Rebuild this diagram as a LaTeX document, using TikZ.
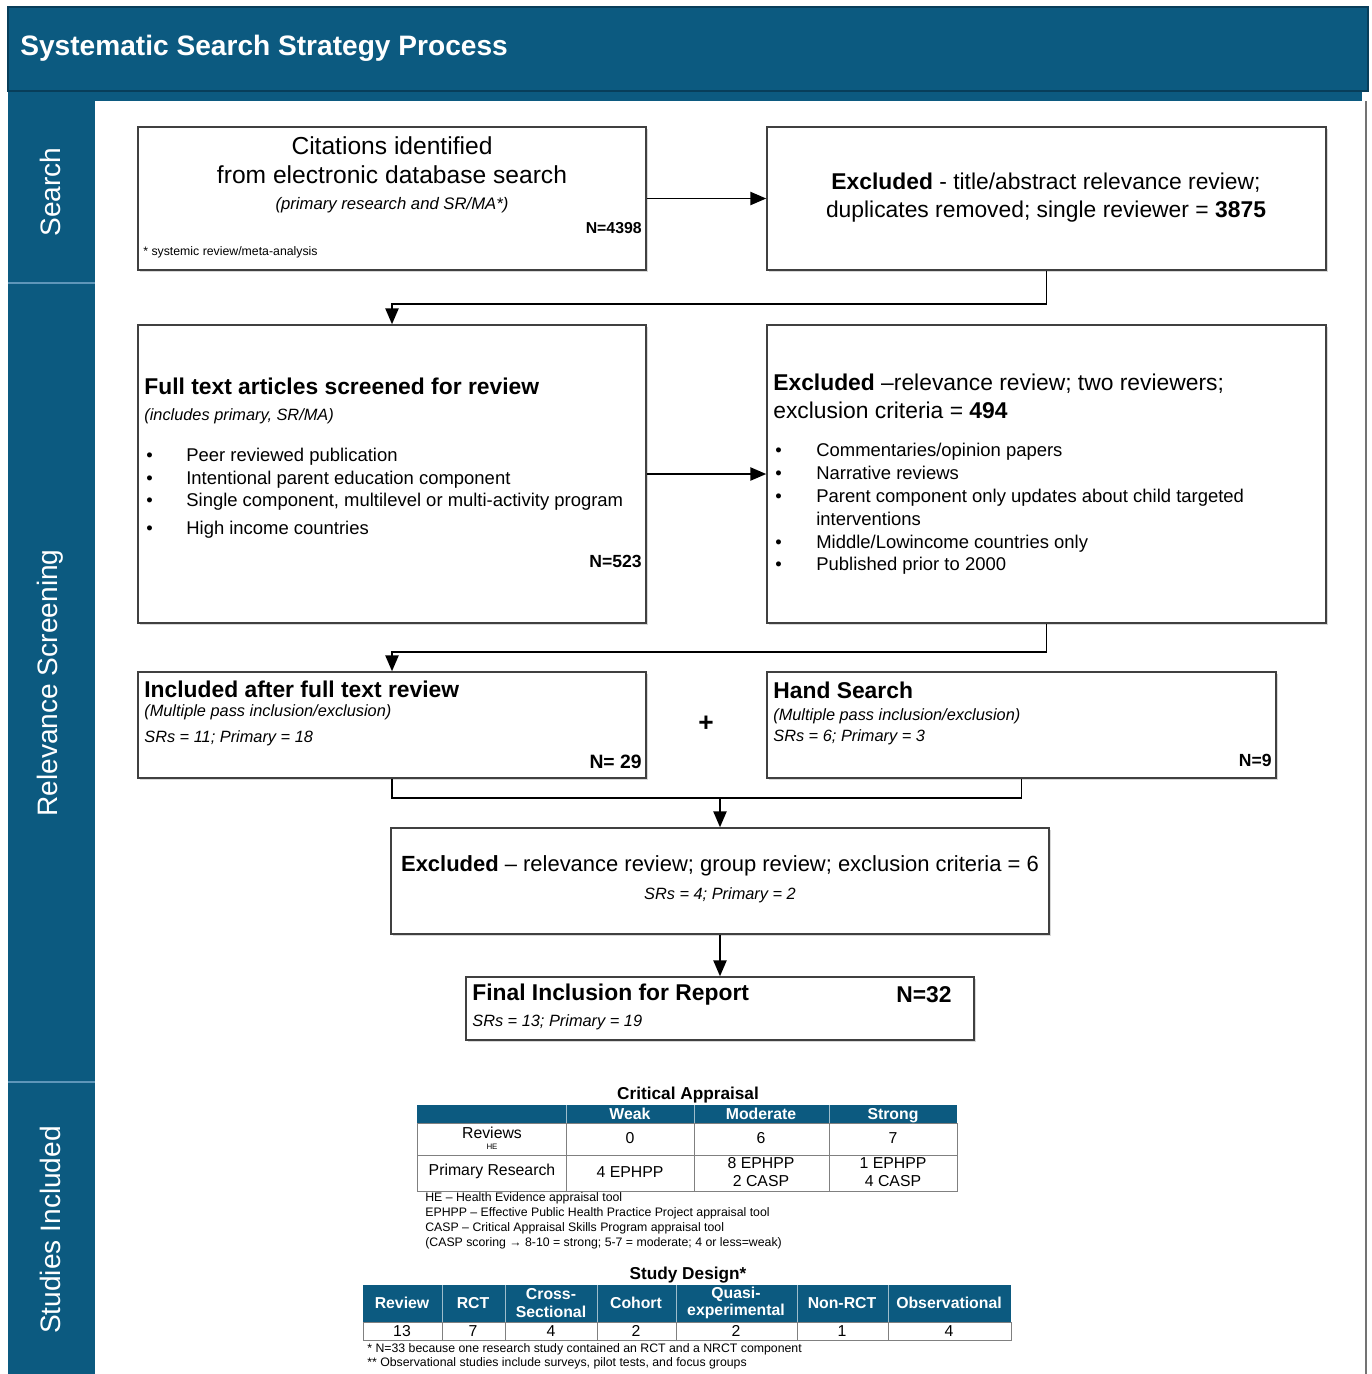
\documentclass[tikz,border=0pt]{standalone}
\usepackage{fontspec}
\setmainfont{Liberation Sans}
\usetikzlibrary{arrows.meta,fit,shadows}
\definecolor{lanecol}{RGB}{12,90,128}
\definecolor{laneedge}{RGB}{8,62,90}
\definecolor{laneline}{RGB}{95,150,185}
\newcommand\fsz[2]{\fontsize{#1}{#2}\selectfont}

\begin{document}
\begin{tikzpicture}[x=0.02cm, y=-0.02cm]
\tikzstyle{box}=[draw=black!75, line width=0.9pt, fill=white, inner sep=0pt,
  drop shadow={shadow xshift=1.2pt, shadow yshift=-1.2pt, opacity=0.3}]
\tikzstyle{arr}=[line width=0.9pt, -{Triangle[length=9pt,width=7.5pt]}]
\tikzstyle{conn}=[line width=0.9pt]
\tikzstyle{lw}=[anchor=west, inner sep=0pt]
\tikzstyle{le}=[anchor=east, inner sep=0pt]
\tikzstyle{lane}=[white, rotate=90, font=\fsz{16}{18}]
\tikzstyle{head}=[inner sep=0pt, font=\bfseries\fsz{13}{15}]
\tikzstyle{note}=[inner sep=0pt, font=\itshape\fsz{9.3}{11}]
\tikzstyle{item}=[anchor=base west, inner sep=0pt, font=\fsz{10.5}{12}]
\tikzstyle{num}=[le, font=\bfseries\fsz{10}{12}]
\tikzstyle{tline}=[draw=black!50, line width=0.5pt]
\tikzstyle{thead}=[inner sep=0pt, white, align=center, font=\bfseries\fsz{9}{10}]
\tikzstyle{tcell}=[inner sep=0pt, align=center, font=\fsz{9}{10}]
\tikzstyle{tnote}=[lw, font=\fsz{7}{8}]

\fill[white] (0,0) rectangle (1372,1374);
\useasboundingbox (0,0) rectangle (1372,1374);

% frame and lanes
\fill[lanecol] (8,91) rectangle (1362,101);
\fill[lanecol, draw=laneedge, line width=0.8pt] (8,7) rectangle (1368,91);
\fill[lanecol] (8,101) rectangle (95,1374);
\draw[laneline, line width=1.2pt] (8,283) -- (95,283);
\draw[laneline, line width=1.2pt] (8,1082) -- (95,1082);
\draw[black!55, line width=0.6pt] (1366,101) -- (1366,1374);

\node[lw, white, font=\bfseries\fsz{16}{18}] (title) at (20,48) {Systematic Search Strategy Process};
\node[lane] (laneS) at (50,192) {Search};
\node[lane] (laneR) at (50,683) {Relevance Screening};
\node[lane] (laneI) at (50,1230) {Studies Included};

% boxes
\node[box, fit={(138,127) (646,270)}] (cite) {};
\node[box, fit={(767,127) (1326,270)}] (excl1) {};
\node[box, fit={(138,325) (646,623)}] (full) {};
\node[box, fit={(767,325) (1326,623)}] (excl2) {};
\node[box, fit={(138,672) (646,778)}] (incl) {};
\node[box, fit={(767,672) (1276,778)}] (hand) {};
\node[box, fit={(391,828) (1049,934)}] (excl3) {};
\node[box, fit={(466,977) (974,1040)}] (final) {};

% search
\node[inner sep=0pt, align=center, font=\fsz{14}{16.5}] (citeT) at (392,160)
  {Citations identified\\from electronic database search};
\node[note, font=\itshape\fsz{9.5}{11}] (citeS) at (392,205) {(primary research and SR/MA*)};
\node[num, font=\bfseries\fsz{9}{11}] (citeN) at (642,228) {N=4398};
\node[lw, font=\fsz{7}{8}] (citeF) at (143,252) {* systemic review/meta-analysis};
\node[inner sep=0pt, align=center, font=\fsz{13}{16}] (excl1T) at (1046,198)
  {\textbf{Excluded} - title/abstract relevance review;\\duplicates removed; single reviewer = \textbf{3875}};

% full text screening
\node[lw, head] (fullT) at (144,386) {Full text articles screened for review};
\node[lw, note] (fullS) at (144,416) {(includes primary, SR/MA)};
\foreach \y/\t [count=\i] in {461/{Peer reviewed publication}, 484/{Intentional parent education component},
  506/{Single component, multilevel or multi-activity program}, 534/{High income countries}} {
  \node[item] (fullB\i) at (146,\y) {•};
  \node[item] (fullI\i) at (186,\y) {\t};
}
\node[num] (fullN) at (642,561) {N=523};

\node[lw, align=left, font=\fsz{13}{16}] (excl2T) at (773,396)
  {\textbf{Excluded} –relevance review; two reviewers;\\exclusion criteria = \textbf{494}};
\foreach \y/\t [count=\i] in {456/{Commentaries/opinion papers}, 479/{Narrative reviews},
  502/{Parent component only updates about child targeted}, 548/{Middle/Lowincome countries only},
  570/{Published prior to 2000}} {
  \node[item] (excl2B\i) at (775,\y) {•};
  \node[item] (excl2I\i) at (816,\y) {\t};
}
\node[item] (excl2I6) at (816,525) {interventions};

% included and hand search
\node[lw, head] (inclT) at (144,689) {Included after full text review};
\node[lw, note] (inclS) at (144,712) {(Multiple pass inclusion/exclusion)};
\node[lw, note] (inclC) at (144,738) {SRs = 11; Primary = 18};
\node[num, font=\bfseries\fsz{11}{13}] (inclN) at (642,762) {N= 29};

\node[inner sep=0pt, font=\bfseries\fsz{15}{16}] (plus) at (706,724) {+};

\node[lw, head] (handT) at (773,690) {Hand Search};
\node[lw, note] (handS) at (773,716) {(Multiple pass inclusion/exclusion)};
\node[lw, note] (handC) at (773,737) {SRs = 6; Primary = 3};
\node[num] (handN) at (1272,760) {N=9};

\node[inner sep=0pt, font=\fsz{12.5}{15}] (excl3T) at (720,866)
  {\textbf{Excluded} – relevance review; group review; exclusion criteria = 6};
\node[note] (excl3C) at (720,895) {SRs = 4; Primary = 2};

\node[lw, head] (finalT) at (472,995) {Final Inclusion for Report};
\node[le, head] (finalN) at (952,995) {N=32};
\node[lw, note] (finalC) at (472,1022) {SRs = 13; Primary = 19};

% connectors
\draw[arr] (cite.east) -- (excl1.west);
\draw[arr] (excl1.south) -- ++(0,33) -| (full.north);
\draw[arr] (full.east) -- (excl2.west);
\draw[arr] (excl2.south) -- ++(0,28) -| (incl.north);
\coordinate (merge) at (720,798);
\draw[conn] (incl.south) |- (merge) -| (hand.south);
\draw[arr] (merge) -- (excl3.north);
\draw[arr] (excl3.south) -- (final.north);

% critical appraisal table
\node[inner sep=0pt, font=\bfseries\fsz{9.8}{11}] (caT) at (688,1095) {Critical Appraisal};
\fill[lanecol] (417,1105) rectangle (957,1123);
\draw[tline] (417,1123) rectangle (957,1191);
\draw[tline] (417,1155) -- (957,1155);
\foreach \x in {566,694,829} {
  \draw[white!60!lanecol, line width=0.5pt] (\x,1105) -- (\x,1123);
  \draw[tline] (\x,1123) -- (\x,1191);
}
\foreach \x/\t [count=\i] in {630/Weak, 761/Moderate, 893/Strong}
  \node[thead] (caH\i) at (\x,1116) {\strut\t};
\node[tcell] (caR1) at (492,1133) {Reviews};
\node[tcell, font=\fsz{4.5}{5}] (caHE) at (492,1147) {HE};
\foreach \x/\t [count=\i] in {630/0, 761/6, 893/7}
  \node[tcell] (caA\i) at (\x,1138) {\t};
\node[tcell] (caR2) at (492,1171) {Primary Research};
\foreach \x/\t [count=\i] in {630/4 EPHPP, 761/8 EPHPP\\2 CASP, 893/1 EPHPP\\4 CASP}
  \node[tcell] (caB\i) at (\x,1172) {\t};
\foreach \y/\t [count=\i] in {1198/{HE – Health Evidence appraisal tool},
  1213/{EPHPP – Effective Public Health Practice Project appraisal tool},
  1228/{CASP – Critical Appraisal Skills Program appraisal tool},
  1243/{(CASP scoring → 8-10 = strong; 5-7 = moderate; 4 or less=weak)}}
  \node[tnote] (caN\i) at (425,\y) {\t};

% study design table
\node[inner sep=0pt, font=\bfseries\fsz{9.8}{11}] (sdT) at (688,1275) {Study Design*};
\fill[lanecol] (363,1285) rectangle (1011,1322);
\draw[tline] (363,1322) rectangle (1011,1340);
\foreach \x in {442,505,597,676,797,888} {
  \draw[white!60!lanecol, line width=0.5pt] (\x,1285) -- (\x,1322);
  \draw[tline] (\x,1322) -- (\x,1340);
}
\foreach \x/\t/\n [count=\i] in {402/Review/13, 473/RCT/7, 551/Cross-\\Sectional/4, 636/Cohort/2,
  736/Quasi-\\experimental/2, 842/Non-RCT/1, 949/Observational/4} {
  \node[thead] (sdH\i) at (\x,1303) {\t};
  \node[tcell] (sdV\i) at (\x,1331) {\n};
}
\node[tnote] (sdN1) at (367,1349) {* N=33 because one research study contained an RCT and a NRCT component};
\node[tnote] (sdN2) at (367,1363) {** Observational studies include surveys, pilot tests, and focus groups};
\end{tikzpicture}
\end{document}
